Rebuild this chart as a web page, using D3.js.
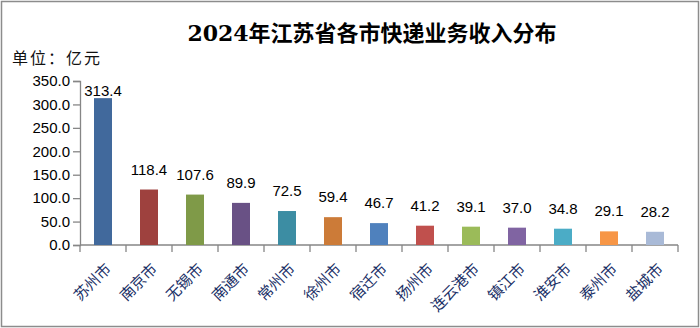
<!DOCTYPE html>
<html>
<head>
<meta charset="utf-8">
<script src="https://cdn.jsdelivr.net/npm/d3@7"></script>
<style>
  body { margin: 0; background: #fff; }
  svg text { font-family: "Liberation Sans", "Noto Sans CJK SC", sans-serif; }
</style>
</head>
<body>
<svg></svg>
<script>
// DATA

let cities = ["苏州市", "南京市", "无锡市", "南通市", "常州市", "徐州市", "宿迁市",
  "扬州市", "连云港市", "镇江市", "淮安市", "泰州市", "盐城市"];
let revenue = [313.4, 118.4, 107.6, 89.9, 72.5, 59.4, 46.7, 41.2, 39.1, 37.0, 34.8, 29.1, 28.2];
let barColors = ["#41699c", "#9e413e", "#7f9a48", "#695185", "#3c8da3", "#cc7b38", "#4f81bd",
  "#c0504d", "#9bbb59", "#8064a2", "#4bacc6", "#f79646", "#a9bad7"];
let yTicks = [0, 50, 100, 150, 200, 250, 300, 350];

// PAGE SETUP

let W = 700, H = 328;
let margin = {top: 81, left: 80, right: 22, bottom: 83};
let width = W - margin.left - margin.right;
let height = H - margin.top - margin.bottom;

let svg = d3.select("svg")
  .attr("width", W)
  .attr("height", H);

// outer frame
svg.append("rect")
  .attr("x", 1.5).attr("y", 1.5)
  .attr("width", W - 3).attr("height", H - 3)
  .attr("fill", "#fff")
  .attr("stroke", "#8c8c8c")
  .attr("stroke-width", 1.5);

svg.append("text")
  .attr("x", 372).attr("y", 41)
  .attr("text-anchor", "middle")
  .style("font-family", "'DejaVu Serif', 'Noto Sans CJK SC', serif")
  .style("font-weight", "bold")
  .style("font-size", "22px")
  .text("2024年江苏省各市快递业务收入分布");

svg.append("text")
  .attr("x", 12).attr("y", 64)
  .style("font-size", "16px")
  .style("letter-spacing", "2px")
  .style("font-family", "'Noto Sans CJK SC', sans-serif")
  .attr("fill", "#111")
  .text("单位：亿元");

let g = svg.append("g")
  .attr("transform", `translate(${margin.left},${margin.top})`);

// SCALES

let x = d3.scaleBand()
  .domain(cities)
  .range([0, width]);

let y = d3.scaleLinear()
  .domain([0, 350])
  .range([height, 0]);

// AXES

let yAxis = g.append("g")
  .call(d3.axisLeft(y).tickValues(yTicks).tickSize(7).tickPadding(3).tickFormat(d3.format(".1f")));
yAxis.select(".domain").attr("stroke", "#868686").attr("stroke-width", 1.3);
yAxis.selectAll(".tick line").attr("stroke", "#868686").attr("stroke-width", 1.3);
yAxis.selectAll(".tick text")
  .style("font-size", "15px")
  .attr("fill", "#000");

let xAxis = g.append("g")
  .attr("transform", `translate(0,${height})`);
xAxis.append("line")
  .attr("x1", 0).attr("x2", width)
  .attr("stroke", "#868686").attr("stroke-width", 1.3);
xAxis.selectAll(".xtick")
  .data(d3.range(cities.length + 1))
  .enter()
  .append("line")
  .attr("x1", i => i * x.step()).attr("x2", i => i * x.step())
  .attr("y1", 0).attr("y2", 7)
  .attr("stroke", "#868686").attr("stroke-width", 1.3);

xAxis.selectAll(".xlabel")
  .data(cities)
  .enter()
  .append("text")
  .attr("class", "xlabel")
  .attr("text-anchor", "end")
  .attr("transform", d => `translate(${x(d) + x.bandwidth() / 2 + 9},${25}) rotate(-45)`)
  .style("font-size", "15px")
  .style("font-family", "'Noto Sans CJK SC', sans-serif")
  .attr("fill", "#1a2f66")
  .text(d => d);

// BARS

let barW = 18;
g.selectAll(".bar")
  .data(revenue)
  .enter()
  .append("rect")
  .attr("class", "bar")
  .attr("x", (d, i) => x(cities[i]) + x.bandwidth() / 2 - barW / 2)
  .attr("y", d => y(d))
  .attr("width", barW)
  .attr("height", d => height - y(d))
  .attr("fill", (d, i) => barColors[i]);

g.selectAll(".value")
  .data(revenue)
  .enter()
  .append("text")
  .attr("class", "value")
  .attr("text-anchor", "middle")
  .attr("x", (d, i) => x(cities[i]) + x.bandwidth() / 2)
  .attr("y", d => Math.max(y(d) - 15, 15))
  .style("font-size", "15px")
  .attr("fill", "#000")
  .text(d => d3.format(".1f")(d));
</script>
</body>
</html>
